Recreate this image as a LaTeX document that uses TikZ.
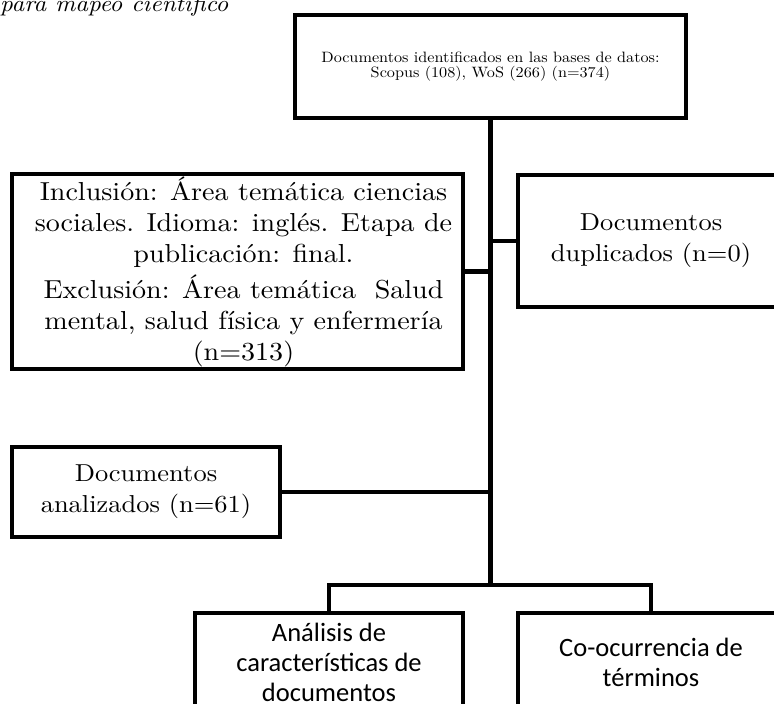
\documentclass[tikz,border=0pt]{standalone}
\usepackage{fontspec}
\setsansfont{Carlito}
\newfontfamily\palish{lmroman10-regular.otf}[ItalicFont=lmroman10-italic.otf, FakeStretch=1.08]
\begin{document}
\begin{tikzpicture}[x=1pt,y=-1pt,
  box/.style={draw, line width=4.5pt, rectangle, inner sep=0pt, align=center, fill=white},
  link/.style={line width=4.5pt, line join=miter},
  bigserif/.style={font=\palish\fontsize{26}{31}\selectfont},
  midserif/.style={font=\palish\fontsize{24.5}{31}\selectfont},
  bigsans/.style={font=\sffamily\fontsize{26.5}{30}\selectfont}]
\useasboundingbox (0,0) rectangle (774,704);
\node[anchor=base west, inner sep=0pt, font=\palish\fontsize{23}{26}\selectfont\itshape] (cap) at (0,12) {para mapeo científico};
\node[box, minimum width=391pt, minimum height=103pt, font=\palish\fontsize{15}{15}\selectfont] (top) at (490.5,66.5)
  {Documentos identificados en las bases de datos:\\ Scopus (108), WoS (266) (n=374)};
\node[box, bigserif, minimum width=451pt, minimum height=195pt] (incl) at (237.5,271.5)
  {\hspace*{12pt}Inclusión: Área temática ciencias\\ \hspace*{12pt}sociales. Idioma: inglés. Etapa de\\ \hspace*{12pt}publicación: final.\\[5pt]
   \hspace*{12pt}Exclusión: Área temática\ \ Salud\\ \hspace*{12pt}mental, salud física y enfermería\\ \hspace*{12pt}(n=313)};
\node[box, midserif, minimum width=266pt, minimum height=132pt] (dup) at (651,241)
  {Documentos\\ duplicados (n=0)};
\node[box, midserif, minimum width=268pt, minimum height=90pt] (anal) at (146,492)
  {Documentos\\ analizados (n=61)};
\node[box, bigsans, minimum width=268pt, minimum height=98pt] (a1) at (329,662)
  {Análisis de\\ características de\\ documentos};
\node[box, bigsans, minimum width=266pt, minimum height=98pt] (a2) at (651,662)
  {Co-ocurrencia de\\ términos};
\coordinate (split) at (490.5,585);
\draw[link] (top.south) -- (split);
\draw[link] (incl.east) -- (incl.east -| top.south);
\draw[link] (dup.west) -- (dup.west -| top.south);
\draw[link] (anal.east) -- (anal.east -| top.south);
\draw[link] (a1.north) |- (split) -| (a2.north);
\end{tikzpicture}
\end{document}
